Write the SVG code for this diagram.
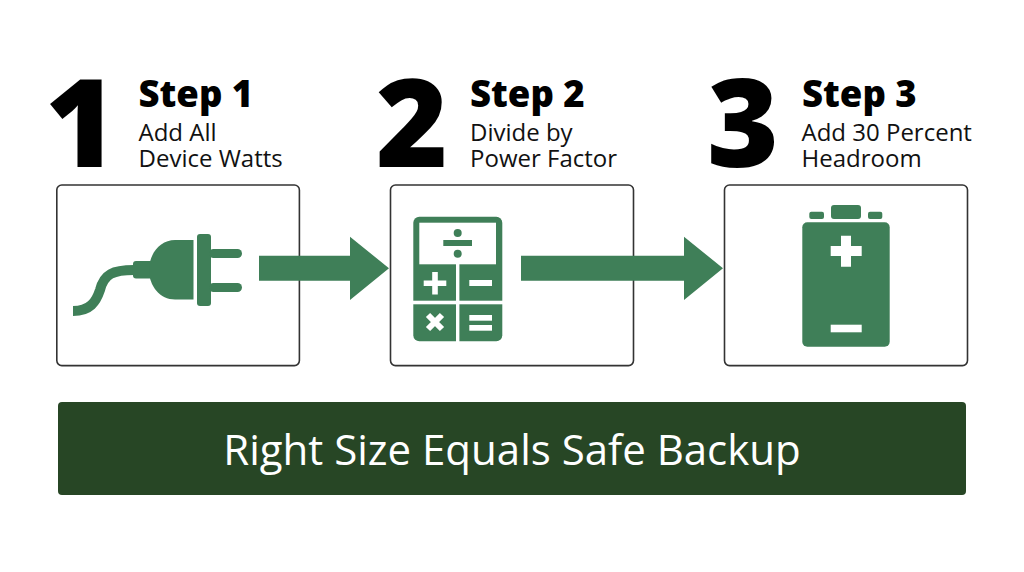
<svg xmlns="http://www.w3.org/2000/svg" width="1024" height="572" viewBox="0 0 1024 572">
<style>
text{font-family:"Open Sans","Liberation Sans",sans-serif}
.num{font-size:123px;font-weight:800;fill:#000}
.title{font-size:36.500px;font-weight:800;fill:#000}
.sub{font-size:24px;font-weight:400;fill:#111}
.box{fill:#fff;stroke:#333;stroke-width:1.6}
.g{fill:#3f7f58}
.w{fill:#fff}
</style>
<rect width="1024" height="572" fill="#fff"/>
<g id="step1">
<text class="num" x="45" y="167">1</text>
<text class="title" x="138.500" y="107">Step 1</text>
<text class="sub" x="138.500" y="141">Add All</text>
<text class="sub" x="138.500" y="167">Device Watts</text>
<rect class="box" x="56.8" y="185" width="242.6" height="180.6" rx="5"/>
<g id="plug-icon">
<path d="M73 311C90 311 96 302 100 290C104 274 113 270 134 270" fill="none" stroke="#3f7f58" stroke-width="10"/>
<rect class="g" x="133" y="261" width="20" height="17.5" rx="3"/>
<path class="g" d="M193.500 240H175C160 240 149 254 149 270C149 286 160 299.500 175 299.500H193.500Z"/>
<rect class="g" x="197" y="234" width="14" height="72" rx="3"/>
<rect class="g" x="209" y="249" width="33" height="9" rx="4.500"/>
<rect class="g" x="209" y="283" width="33" height="9" rx="4.500"/>
</g>
</g>
<g id="step2">
<text class="num" x="376" y="167">2</text>
<text class="title" x="470" y="107">Step 2</text>
<text class="sub" x="470" y="141">Divide by</text>
<text class="sub" x="470" y="167">Power Factor</text>
<rect class="box" x="390.500" y="185" width="243" height="180.6" rx="5"/>
<g id="calculator-icon">
<rect class="g" x="413.300" y="216.700" width="89" height="124.600" rx="6"/>
<rect class="w" x="419.300" y="222.700" width="76.700" height="41.600"/>
<rect class="w" x="456" y="264" width="3.400" height="78"/>
<rect class="w" x="413" y="300.700" width="90" height="3.600"/>
<circle class="g" cx="457.700" cy="233" r="4"/>
<rect class="g" x="443.300" y="240" width="28.700" height="6"/>
<circle class="g" cx="457.700" cy="253.700" r="4"/>
<path class="w" d="M432.200 272H437.800V280.500H446.300V286.100H437.800V294.600H432.200V286.100H423.700V280.500H432.200Z"/>
<rect class="w" x="469.300" y="280" width="22.700" height="6"/>
<path d="M428 315L442 329M442 315L428 329" fill="none" stroke="#fff" stroke-width="6"/>
<rect class="w" x="469.300" y="315" width="22.700" height="5.700"/>
<rect class="w" x="469.300" y="325" width="22.700" height="5.700"/>
</g>
</g>
<g id="step3">
<text class="num" x="707" y="167">3</text>
<text class="title" x="802" y="107">Step 3</text>
<text class="sub" x="801.500" y="141">Add 30 Percent</text>
<text class="sub" x="801.500" y="167">Headroom</text>
<rect class="box" x="724.500" y="185" width="243" height="180.6" rx="5"/>
<g id="battery-icon">
<rect class="g" x="802.300" y="222.300" width="87.400" height="124.400" rx="5"/>
<rect class="g" x="831" y="205" width="30" height="14" rx="3"/>
<rect class="g" x="809.300" y="211.700" width="14.700" height="7.300" rx="2"/>
<rect class="g" x="868" y="211.700" width="14.300" height="7.300" rx="2"/>
<path class="w" d="M841 235.700H851V246H861.700V256H851V266.700H841V256H830.700V246H841Z"/>
<rect class="w" x="830.700" y="324.700" width="31" height="7.600"/>
</g>
</g>
<g id="connectors">
<path class="g" d="M259 255.700H350V236.700L389 268.300L350 300V280.700H259Z"/>
<path class="g" d="M521 255.700H684V236.700L723 268.300L684 300V280.700H521Z"/>
</g>
<g id="banner">
<rect x="58" y="402" width="908" height="93" rx="4" fill="#274625"/>
<text x="512" y="465" text-anchor="middle" font-size="42" fill="#fff">Right Size Equals Safe Backup</text>
</g>
</svg>
